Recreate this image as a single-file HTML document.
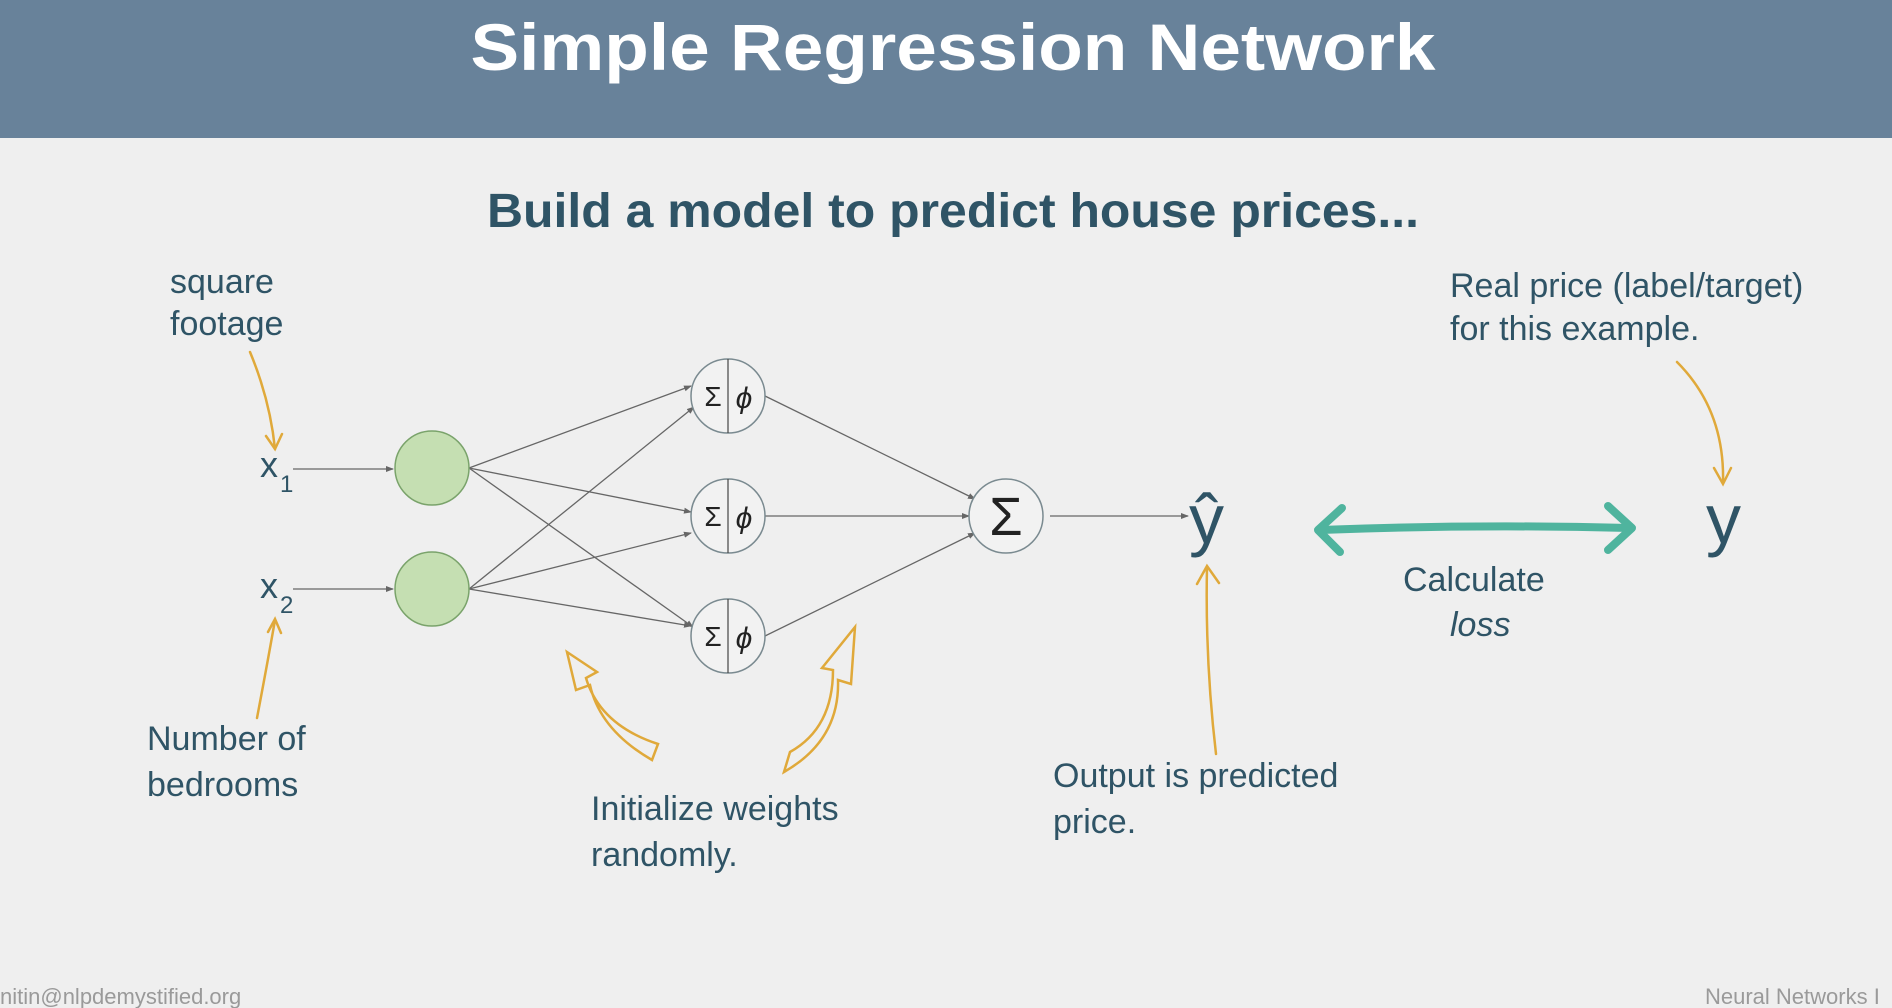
<!DOCTYPE html>
<html><head><meta charset="utf-8"><style>
html,body{margin:0;padding:0;width:1892px;height:1008px;overflow:hidden;background:#efefef}
svg{display:block}
text{font-family:"Liberation Sans",sans-serif}
.t{fill:#2f5466;font-size:34px}
</style></head><body>
<svg width="1892" height="1008" viewBox="0 0 1892 1008" xmlns="http://www.w3.org/2000/svg">
<defs>
<marker id="a" markerWidth="8" markerHeight="8" refX="7" refY="4" orient="auto" markerUnits="userSpaceOnUse"><path d="M0,1 L8,4 L0,7 z" fill="#666"/></marker>
</defs>
<rect x="0" y="0" width="1892" height="138" fill="#68829a"/>
<text x="953" y="70" text-anchor="middle" font-size="66" font-weight="bold" fill="#fff" textLength="965" lengthAdjust="spacingAndGlyphs">Simple Regression Network</text>
<text x="953" y="227" text-anchor="middle" font-size="48" font-weight="bold" fill="#2f5466" textLength="932" lengthAdjust="spacingAndGlyphs">Build a model to predict house prices...</text>

<text class="t" x="170" y="293">square</text>
<text class="t" x="170" y="335">footage</text>
<text class="t" x="260" y="477" style="font-size:36px">x</text><text class="t" x="280" y="492" style="font-size:24px">1</text>
<text class="t" x="260" y="598" style="font-size:36px">x</text><text class="t" x="280" y="613" style="font-size:24px">2</text>
<text class="t" x="147" y="750">Number of</text>
<text class="t" x="147" y="796">bedrooms</text>
<text class="t" x="591" y="820">Initialize weights</text>
<text class="t" x="591" y="866">randomly.</text>
<text class="t" x="1053" y="787">Output is predicted</text>
<text class="t" x="1053" y="833">price.</text>
<text class="t" x="1450" y="297">Real price (label/target)</text>
<text class="t" x="1450" y="340">for this example.</text>
<text class="t" x="1403" y="591">Calculate</text>
<text class="t" x="1450" y="636" font-style="italic">loss</text>
<text class="t" x="1189" y="543" style="font-size:70px">ŷ</text>
<text class="t" x="1706" y="543" style="font-size:70px">y</text>

<g stroke="#666" stroke-width="1.3" fill="none" marker-end="url(#a)">
<line x1="293" y1="469" x2="393" y2="469"/>
<line x1="293" y1="589" x2="393" y2="589"/>
<line x1="469" y1="468" x2="691" y2="386"/>
<line x1="469" y1="468" x2="691" y2="512"/>
<line x1="469" y1="468" x2="693" y2="627"/>
<line x1="469" y1="589" x2="694" y2="407"/>
<line x1="469" y1="589" x2="691" y2="533"/>
<line x1="469" y1="589" x2="691" y2="626"/>
<line x1="765" y1="396" x2="975" y2="499"/>
<line x1="765" y1="516" x2="969" y2="516"/>
<line x1="765" y1="636" x2="975" y2="533"/>
<line x1="1050" y1="516" x2="1188" y2="516"/>
</g>
<g fill="#c5dfb2" stroke="#7aa36b" stroke-width="1.5">
<circle cx="432" cy="468" r="37"/><circle cx="432" cy="589" r="37"/>
</g>
<g fill="#f2f2f2" stroke="#7a8a90" stroke-width="1.5">
<circle cx="728" cy="396" r="37"/><circle cx="728" cy="516" r="37"/><circle cx="728" cy="636" r="37"/>
<circle cx="1006" cy="516" r="37"/>
</g>
<g stroke="#444" stroke-width="1.2"><line x1="728" y1="359" x2="728" y2="433"/><line x1="728" y1="479" x2="728" y2="553"/><line x1="728" y1="599" x2="728" y2="673"/></g>
<g font-family="'DejaVu Serif',serif" fill="#222">
<text x="713" y="406" font-size="28" text-anchor="middle">Σ</text><text x="744" y="408" font-size="30" font-style="italic" text-anchor="middle">ϕ</text>
<text x="713" y="526" font-size="28" text-anchor="middle">Σ</text><text x="744" y="528" font-size="30" font-style="italic" text-anchor="middle">ϕ</text>
<text x="713" y="646" font-size="28" text-anchor="middle">Σ</text><text x="744" y="648" font-size="30" font-style="italic" text-anchor="middle">ϕ</text>
<text x="1006" y="535" font-size="54" text-anchor="middle">Σ</text>
</g>

<g stroke="#e0a93a" stroke-width="2.5" fill="none" stroke-linecap="round">
<path d="M250,352 Q270,400 275,449"/><path d="M266,436 L275,449 L282,434"/>
<path d="M257,718 Q268,660 275,620"/><path d="M268,632 L275,619 L281,633"/>
<path d="M1216,754 Q1205,660 1207,567"/><path d="M1197,584 L1207,566 L1219,583"/>
<path d="M1677,362 Q1725,410 1723,483"/><path d="M1714,468 L1723,484 L1731,468"/>
<path d="M652,760 Q600,730 590,685 L576,690 L567,652 L597,672 L586,678 Q600,725 658,744 Z"/>
<path d="M784,772 Q840,740 838,680 L851,684 L855,627 L822,668 L833,670 Q833,728 790,752 Z"/>
</g>
<g stroke="#4fb49e" stroke-width="8" fill="none" stroke-linecap="round" stroke-linejoin="round">
<path d="M1320,530 Q1475,524 1630,528"/>
<path d="M1342,508 L1318,530 L1340,552"/>
<path d="M1608,506 L1632,528 L1608,550"/>
</g>
<text x="0" y="1004" font-size="22" fill="#9a9a9a">nitin@nlpdemystified.org</text>
<text x="1705" y="1004" font-size="22" fill="#9a9a9a">Neural Networks I</text>
</svg>
</body></html>
